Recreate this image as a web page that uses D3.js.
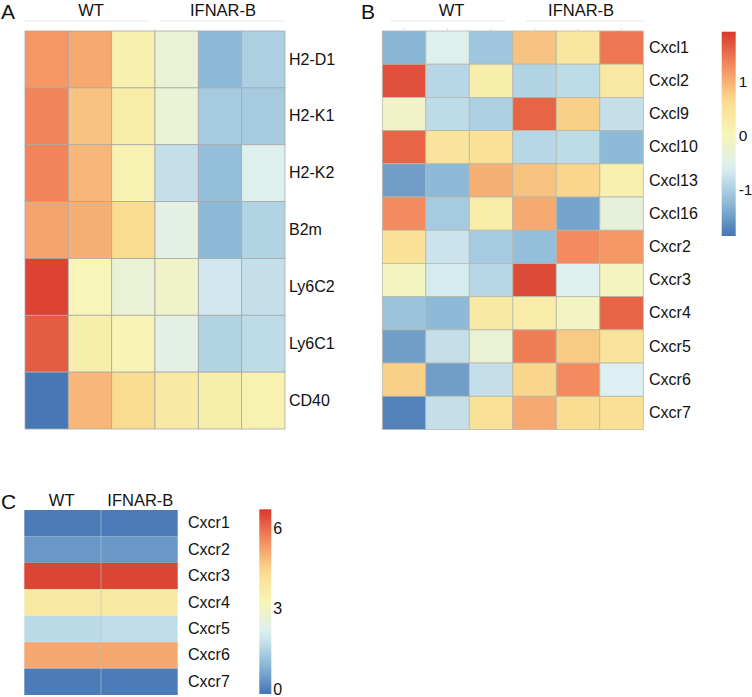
<!DOCTYPE html>
<html>
<head>
<meta charset="utf-8">
<script src="https://cdn.jsdelivr.net/npm/d3@7"></script>
<style>
  body { margin: 0; background: #fff; }
  svg { display: block; font-family: "Liberation Sans", Arial, sans-serif; }
</style>
</head>
<body>
<svg id="chart" width="752" height="697"></svg>
<script>
// ---------- DATA ----------
const groups = ["WT", "IFNAR-B"];
const samples6 = ["WT1", "WT2", "WT3", "IFNAR-B1", "IFNAR-B2", "IFNAR-B3"];
const samplesC = ["WT", "IFNAR-B"];

const genesA = ["H2-D1", "H2-K1", "H2-K2", "B2m", "Ly6C2", "Ly6C1", "CD40"];
const valuesA = [
  [1.20, 1.05, 0.15, -0.30, -1.25, -1.00],
  [1.35, 0.85, 0.25, -0.30, -1.05, -1.05],
  [1.35, 0.95, 0.10, -0.80, -1.20, -0.55],
  [1.10, 1.00, 0.65, -0.45, -1.25, -0.95],
  [1.85, 0.00, -0.30, -0.15, -0.70, -0.80],
  [1.65, 0.20, 0.05, -0.45, -0.95, -0.85],
  [-1.85, 0.95, 0.65, 0.30, 0.20, 0.10]
];

const genesB = ["Cxcl1", "Cxcl2", "Cxcl9", "Cxcl10", "Cxcl13", "Cxcl16",
                "Cxcr2", "Cxcr3", "Cxcr4", "Cxcr5", "Cxcr6", "Cxcr7"];
const valuesB = [
  [-1.30, -0.55, -1.10, 0.85, 0.40, 1.45],
  [1.75, -0.90, 0.20, -0.95, -0.85, 0.35],
  [-0.15, -0.85, -1.00, 1.60, 0.75, -0.80],
  [1.60, 0.45, 0.50, -0.90, -0.85, -1.25],
  [-1.50, -1.25, 1.00, 0.85, 0.70, 0.15],
  [1.30, -1.05, 0.25, 1.05, -1.45, -0.35],
  [0.50, -0.75, -1.05, -1.20, 1.30, 1.20],
  [-0.05, -0.65, -0.90, 1.80, -0.55, -0.05],
  [-1.15, -1.25, 0.30, 0.25, -0.10, 1.60],
  [-1.50, -0.80, -0.30, 1.40, 0.80, 0.45],
  [0.75, -1.50, -0.80, 0.70, 1.30, -0.60],
  [-1.75, -0.80, 0.50, 1.05, 0.60, 0.55]
];
const ticksB = [-1, 0, 1];
const domainB = [-1.87, 1.93];

const genesC = ["Cxcr1", "Cxcr2", "Cxcr3", "Cxcr4", "Cxcr5", "Cxcr6", "Cxcr7"];
const valuesC = [
  [0.00, 0.00],
  [0.45, 0.45],
  [6.60, 6.60],
  [3.90, 3.90],
  [1.70, 1.75],
  [5.20, 5.20],
  [0.00, 0.00]
];
const ticksC = [0, 3, 6];
const domainC = [-0.11, 6.75];

const palette = ["#4575B4", "#8FBCD8", "#DCEFF2", "#F8F5B6", "#F9DB8E", "#F48B5E", "#D8392E"];

// ---------- HELPERS ----------
const svg = d3.select("#chart");
const FONT = 16;

function colorScale(dom) {
  const [lo, hi] = dom;
  return d3.scaleLinear()
    .domain(palette.map((_, i) => lo + i * (hi - lo) / (palette.length - 1)))
    .range(palette)
    .interpolate(d3.interpolateRgb)
    .clamp(true);
}

function heatmap(opt) {
  const g = svg.append("g");
  const x = d3.scaleBand().domain(opt.cols).range([opt.x0, opt.x1]);
  const y = d3.scaleBand().domain(opt.rows).range([opt.y0, opt.y1]);
  const color = opt.color;

  const cells = [];
  opt.values.forEach((row, i) => row.forEach((v, j) => cells.push({ r: opt.rows[i], c: opt.cols[j], v })));

  g.selectAll("rect.cell").data(cells).join("rect")
    .attr("class", "cell")
    .attr("x", d => x(d.c))
    .attr("y", d => y(d.r))
    .attr("width", x.bandwidth())
    .attr("height", y.bandwidth())
    .attr("fill", d => color(d.v))
    .attr("stroke", opt.stroke || "none")
    .attr("stroke-width", opt.strokeWidth || 0);

  if (opt.vlines) {
    g.selectAll("line.vl").data(opt.cols.slice(1)).join("line")
      .attr("x1", d => x(d)).attr("x2", d => x(d))
      .attr("y1", opt.y0).attr("y2", opt.y1)
      .attr("stroke", "#b9c4c9").attr("stroke-width", 0.6);
  }

  // row labels (right)
  const yAxis = d3.axisRight(y).tickSize(0).tickPadding(0);
  const ya = g.append("g").attr("transform", `translate(${opt.labelX},0)`).call(yAxis);
  ya.select(".domain").remove();
  ya.selectAll("text").attr("font-size", FONT).attr("fill", "#111")
    .attr("font-family", "Liberation Sans, Arial, sans-serif");

  // column tick marks
  if (opt.colTicks) {
    g.selectAll("line.ct").data(opt.cols).join("line")
      .attr("x1", d => x(d) + x.bandwidth() / 2).attr("x2", d => x(d) + x.bandwidth() / 2)
      .attr("y1", opt.y0 - 3).attr("y2", opt.y0)
      .attr("stroke", "#d4d4d4").attr("stroke-width", 0.8);
  }

  // group headers
  opt.groupDefs.forEach(gd => {
    const xs = x(gd.cols[0]);
    const xe = x(gd.cols[gd.cols.length - 1]) + x.bandwidth();
    if (opt.underline) {
      g.append("line")
        .attr("x1", xs + gd.padL).attr("x2", xe - gd.padR)
        .attr("y1", opt.underlineY).attr("y2", opt.underlineY)
        .attr("stroke", "#e8e8e8").attr("stroke-width", 1);
    }
    g.append("text")
      .attr("x", (xs + xe) / 2 + (gd.dx || 0))
      .attr("y", opt.headerY)
      .attr("text-anchor", "middle")
      .attr("font-size", FONT + 0.5)
      .attr("fill", "#111")
      .text(gd.name);
  });
  return { x, y };
}

function colorbar(opt) {
  const id = opt.id;
  const [lo, hi] = opt.domain;
  const color = opt.color;
  const grad = svg.append("defs").append("linearGradient")
    .attr("id", id).attr("x1", 0).attr("x2", 0).attr("y1", 1).attr("y2", 0);
  d3.range(0, 1.0001, 0.05).forEach(t => {
    grad.append("stop").attr("offset", t).attr("stop-color", color(lo + t * (hi - lo)));
  });
  svg.append("rect")
    .attr("x", opt.x).attr("y", opt.y1).attr("width", opt.w).attr("height", opt.y0 - opt.y1)
    .attr("fill", `url(#${id})`);
  const sc = d3.scaleLinear().domain(opt.domain).range([opt.y0, opt.y1]);
  const ax = svg.append("g").attr("transform", `translate(${opt.x + opt.w},0)`)
    .call(d3.axisRight(sc).tickValues(opt.ticks).tickSize(0).tickPadding(opt.pad).tickFormat(d => String(d)));
  ax.select(".domain").remove();
  ax.selectAll("text").attr("font-size", opt.fs || FONT).attr("fill", "#111")
    .attr("dy", opt.dy || "0.32em")
    .attr("font-family", "Liberation Sans, Arial, sans-serif");
}

function panelLabel(txt, x, y) {
  svg.append("text").attr("x", x).attr("y", y).attr("font-size", 21)
    .attr("fill", "#111").text(txt);
}

// ---------- PANEL A ----------
const colorB = colorScale(domainB);
heatmap({
  cols: samples6, rows: genesA, values: valuesA, color: colorB,
  x0: 25, x1: 285, y0: 31, y1: 429,
  stroke: "#a9a9a9", strokeWidth: 0.8,
  labelX: 289,
  headerY: 15.5, underline: true, underlineY: 21,
  groupDefs: [
    { name: groups[0], cols: samples6.slice(0, 3), padL: 0, padR: 7, dx: 1 },
    { name: groups[1], cols: samples6.slice(3), padL: 5, padR: 0, dx: 3 }
  ]
});
panelLabel("A", 1, 18.5);

// ---------- PANEL B ----------
heatmap({
  cols: samples6, rows: genesB, values: valuesB, color: colorB,
  x0: 382.3, x1: 643.3, y0: 31, y1: 429.5,
  stroke: "#b8b8a8", strokeWidth: 0.8,
  labelX: 649,
  headerY: 15.5, underline: true, underlineY: 21, colTicks: true,
  groupDefs: [
    { name: groups[0], cols: samples6.slice(0, 3), padL: 8, padR: 7, dx: 4 },
    { name: groups[1], cols: samples6.slice(3), padL: 13, padR: 0, dx: 3 }
  ]
});
panelLabel("B", 361, 18.5);
colorbar({ id: "gradB", domain: domainB, color: colorB, ticks: ticksB,
  x: 721.7, w: 14, y0: 236, y1: 31.7, pad: 3, fs: 15.5 });

// ---------- PANEL C ----------
const colorC = colorScale(domainC);
heatmap({
  cols: samplesC, rows: genesC, values: valuesC, color: colorC,
  x0: 24.3, x1: 177.7, y0: 510, y1: 695,
  stroke: "none", vlines: true,
  labelX: 188,
  headerY: 505.5, underline: false,
  groupDefs: [
    { name: groups[0], cols: [samplesC[0]], padL: 0, padR: 0, dx: -1 },
    { name: groups[1], cols: [samplesC[1]], padL: 0, padR: 0, dx: 1 }
  ]
});
panelLabel("C", 1, 508.5);
colorbar({ id: "gradC", domain: domainC, color: colorC, ticks: ticksC,
  x: 259.3, w: 12, y0: 694, y1: 509.3, pad: 2, dy: "0.22em" });
</script>
</body>
</html>
